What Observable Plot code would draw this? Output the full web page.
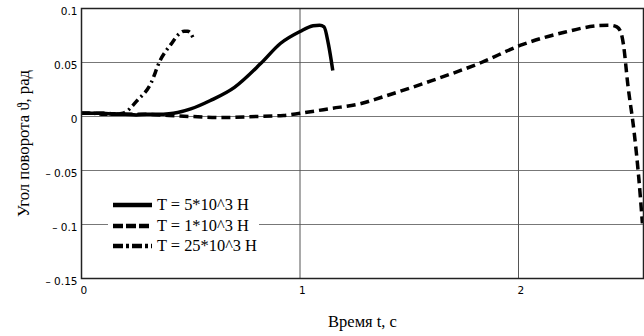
<!DOCTYPE html>
<html>
<head>
<meta charset="utf-8">
<script src="https://cdn.jsdelivr.net/npm/d3@7"></script>
<script src="https://cdn.jsdelivr.net/npm/@observablehq/plot@0.6"></script>
<style>
  html, body { margin: 0; padding: 0; background: #fff; }
  #wrap { position: relative; width: 644px; height: 336px; }
  #legend { position: absolute; left: 108px; top: 194px; width: 151px; height: 64px; background: #fff;
            font-family: "Liberation Serif", "Times New Roman", serif; font-size: 16.4px; color: #000; }
  #legend .row { position: absolute; left: 0; height: 20px; display: flex; align-items: center; white-space: nowrap; }
  #legend svg { margin-left: 5px; margin-right: 5px; }
</style>
</head>
<body>
<div id="wrap"></div>
<script>
// Series: T = 5*10^3 H (solid)
const t5 = [0, 0.05, 0.1, 0.15, 0.2, 0.25, 0.3, 0.35, 0.4, 0.44, 0.5, 0.59, 0.7, 0.82, 0.91, 1.0, 1.06, 1.09, 1.11, 1.13, 1.15];
const y5 = [0.003, 0.003, 0.003, 0.002, 0.002, 0.0015, 0.002, 0.002, 0.0025, 0.0037, 0.007, 0.0148, 0.027, 0.049, 0.0676, 0.0787, 0.084, 0.0845, 0.083, 0.067, 0.0426];
// Series: T = 1*10^3 H (dashed)
const t1 = [0, 0.1, 0.2, 0.3, 0.4, 0.5, 0.64, 0.8, 0.925, 1.0, 1.14, 1.28, 1.37, 1.6, 1.83, 2.01, 2.21, 2.36, 2.42, 2.45, 2.47, 2.48, 2.5, 2.53, 2.55, 2.567];
const y1 = [0.003, 0.003, 0.002, 0.002, 0.001, 0.0, -0.001, 0.0, 0.001, 0.003, 0.0074, 0.012, 0.0176, 0.033, 0.050, 0.066, 0.078, 0.084, 0.0845, 0.083, 0.077, 0.067, 0.030, -0.016, -0.056, -0.099];
// Series: T = 25*10^3 H (dash-dot)
const t25 = [0, 0.05, 0.1, 0.15, 0.19, 0.256, 0.316, 0.36, 0.41, 0.45, 0.47, 0.485, 0.5, 0.51];
const y25 = [0.003, 0.003, 0.002, 0.002, 0.003, 0.015, 0.030, 0.052, 0.067, 0.077, 0.079, 0.079, 0.077, 0.073];

const seriesNames = ["T = 5*10^3 Н", "T = 1*10^3 Н", "T = 25*10^3 Н"];
const seriesDash = ["none", "9,5", "8,4,2,4"];
const legendDash = ["none", "10,3", "10,3,3,3"];

const xTicks = [0, 1, 2];
const yTicks = [0.1, 0.05, 0, -0.05, -0.1, -0.15];
const xGrid = [1, 2];
const yGrid = [0.05, 0, -0.05, -0.1];

const xTitle = "Время t, с";
const yTitle = "Угол поворота ϑ, рад";

const toRows = (ts, ys) => ts.map((t, i) => ({t, v: ys[i]}));
const data = [toRows(t5, y5), toRows(t1, y1), toRows(t25, y25)];

const fmtY = d => d === 0 ? "0" : (d < 0 ? "\u2013 " + String(-d) : String(d));

const chart = Plot.plot({
  width: 644, height: 336,
  marginLeft: 81, marginRight: 1, marginTop: 8, marginBottom: 58,
  style: {fontFamily: "DejaVu Sans, Verdana, sans-serif", fontSize: "10.5px", background: "#fff", color: "#000"},
  x: {domain: [0, 2.572]},
  y: {domain: [-0.15, 0.1]},
  marks: [
    Plot.ruleY(yGrid, {stroke: "#777", strokeWidth: 1}),
    Plot.ruleX(xGrid, {stroke: "#555", strokeWidth: 1}),
    Plot.axisY(yTicks, {tickSize: 0, tickPadding: 4, tickFormat: fmtY, dy: 3, label: null}),
    Plot.axisX(xTicks, {tickSize: 0, tickPadding: 8, textAnchor: "start", dx: -1, tickFormat: d => String(d), label: null}),
    ...data.map((rows, i) => Plot.line(rows, {x: "t", y: "v", stroke: "#000", strokeWidth: 3.5,
      strokeDasharray: seriesDash[i], strokeLinecap: "butt", curve: "monotone-x"})),
    Plot.frame({stroke: "#222", strokeWidth: 1.5}),
    Plot.text([xTitle], {frameAnchor: "bottom", dy: 48, dx: 0, fontFamily: "Liberation Serif, Times New Roman, serif", fontSize: 16.5}),
    Plot.text([yTitle], {frameAnchor: "left", textAnchor: "middle", dx: -58, dy: 0, rotate: -90, fontFamily: "Liberation Serif, Times New Roman, serif", fontSize: 16.7})
  ]
});

const wrap = document.getElementById("wrap");
wrap.appendChild(chart);

const legend = document.createElement("div");
legend.id = "legend";
seriesNames.forEach((name, i) => {
  const row = document.createElement("div");
  row.className = "row";
  row.style.top = (1 + i * 20.7) + "px";
  const ns = "http://www.w3.org/2000/svg";
  const s = document.createElementNS(ns, "svg");
  s.setAttribute("width", "39"); s.setAttribute("height", "8");
  const l = document.createElementNS(ns, "line");
  l.setAttribute("x1", "0"); l.setAttribute("x2", "39"); l.setAttribute("y1", "4"); l.setAttribute("y2", "4");
  l.setAttribute("stroke", "#000"); l.setAttribute("stroke-width", "4.5");
  if (legendDash[i] !== "none") l.setAttribute("stroke-dasharray", legendDash[i]);
  s.appendChild(l);
  const span = document.createElement("span");
  span.textContent = name;
  row.appendChild(s); row.appendChild(span);
  legend.appendChild(row);
});
wrap.appendChild(legend);
</script>
</body>
</html>
